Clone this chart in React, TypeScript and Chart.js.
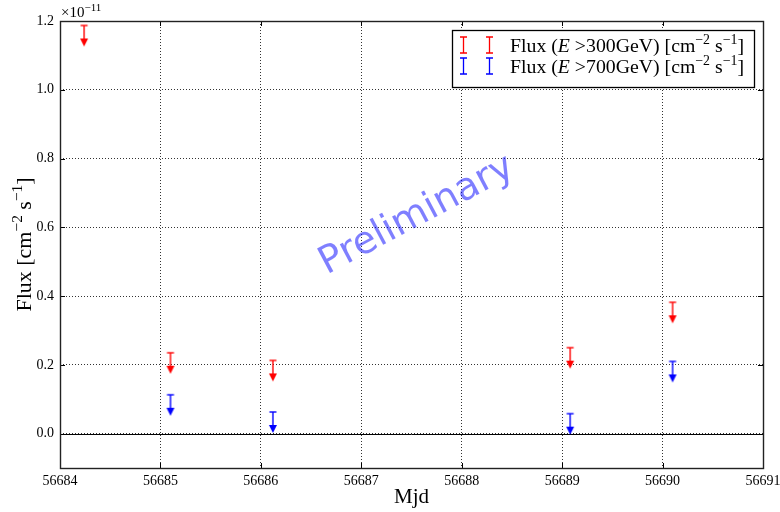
import React, { useEffect, useRef } from 'react';
import { Chart, registerables } from 'chart.js';

Chart.register(...registerables);

// ---- data (flux upper limits in units of 1e-11 cm^-2 s^-1) ----
const mjd300 = [56684.24, 56685.1, 56686.12, 56689.08, 56690.1];
const ul300 = [1.187, 0.235, 0.213, 0.25, 0.382];
const mjd700 = [56685.1, 56686.12, 56689.08, 56690.1];
const ul700 = [0.113, 0.063, 0.058, 0.21];

const xTicks = [56684, 56685, 56686, 56687, 56688, 56689, 56690, 56691];
const yTicks = [0, 0.2, 0.4, 0.6, 0.8, 1.0, 1.2];
const yTickLabels = ['0.0', '0.2', '0.4', '0.6', '0.8', '1.0', '1.2'];
const xMin = 56684;
const xMax = 56691;
const yMin = -0.1;
const yMax = 1.2;

const seriesEnergies = ['300GeV', '700GeV'];
const seriesColors = ['#ff0000', '#0000ff'];
const xTitle = 'Mjd';
const expBase = '×10';
const expPower = '−11';
const watermark = 'Preliminary';

type Seg = { t: string; it?: boolean; sup?: boolean };

const SERIF = '"Liberation Serif", "DejaVu Serif", serif';

function unitSegs(): Seg[] {
  return [
    { t: '[cm' },
    { t: '−2', sup: true },
    { t: ' s' },
    { t: '−1', sup: true },
    { t: ']' },
  ];
}

function legendSegs(energy: string): Seg[] {
  return [{ t: 'Flux (' }, { t: 'E', it: true }, { t: ' >' + energy + ') ' }, ...unitSegs()];
}

function yTitleSegs(): Seg[] {
  return [{ t: 'Flux ' }, ...unitSegs()];
}

function richWidth(ctx: CanvasRenderingContext2D, segs: Seg[], size: number) {
  let w = 0;
  for (const s of segs) {
    const fs = s.sup ? size * 0.7 : size;
    ctx.font = `${s.it ? 'italic ' : ''}${fs}px ${SERIF}`;
    w += ctx.measureText(s.t).width;
  }
  return w;
}

function drawRich(ctx: CanvasRenderingContext2D, segs: Seg[], x: number, y: number, size: number) {
  let cx = x;
  ctx.textAlign = 'left';
  ctx.textBaseline = 'alphabetic';
  for (const s of segs) {
    const fs = s.sup ? size * 0.7 : size;
    ctx.font = `${s.it ? 'italic ' : ''}${fs}px ${SERIF}`;
    ctx.fillText(s.t, cx, s.sup ? y - size * 0.4 : y);
    cx += ctx.measureText(s.t).width;
  }
  return cx - x;
}

function makeUpperLimit(color: string): HTMLCanvasElement {
  const c = document.createElement('canvas');
  c.width = 14;
  c.height = 46;
  const g = c.getContext('2d')!;
  g.strokeStyle = color;
  g.fillStyle = color;
  g.lineWidth = 1.4;
  // cap at the value (canvas center y = 23)
  g.beginPath();
  g.moveTo(3.5, 23);
  g.lineTo(10.5, 23);
  g.stroke();
  // stem
  g.beginPath();
  g.moveTo(7, 23);
  g.lineTo(7, 37);
  g.stroke();
  // arrow head
  g.beginPath();
  g.moveTo(3, 36);
  g.lineTo(11, 36);
  g.lineTo(7, 44);
  g.closePath();
  g.fill();
  return c;
}

function drawLegendSymbol(ctx: CanvasRenderingContext2D, x: number, yTop: number, yBot: number, color: string) {
  ctx.strokeStyle = color;
  ctx.lineWidth = 1.3;
  ctx.beginPath();
  ctx.moveTo(x, yTop);
  ctx.lineTo(x, yBot);
  ctx.moveTo(x - 3.5, yTop);
  ctx.lineTo(x + 3.5, yTop);
  ctx.moveTo(x - 3.5, yBot);
  ctx.lineTo(x + 3.5, yBot);
  ctx.stroke();
}

const decorPlugin = {
  id: 'decor',
  beforeDatasetsDraw(chart: any) {
    const { ctx, chartArea, scales } = chart;
    const y0 = scales.y.getPixelForValue(0);
    ctx.save();
    ctx.strokeStyle = '#000';
    ctx.lineWidth = 1;
    ctx.beginPath();
    ctx.moveTo(chartArea.left, Math.round(y0) + 0.5);
    ctx.lineTo(chartArea.right, Math.round(y0) + 0.5);
    ctx.stroke();

    // watermark
    const cx = (chartArea.left + chartArea.right) / 2 + 10;
    const cy = scales.y.getPixelForValue(0.62) + 4;
    ctx.translate(cx, cy);
    ctx.rotate((-28 * Math.PI) / 180);
    ctx.fillStyle = 'rgba(0, 0, 255, 0.5)';
    ctx.font = '38px "DejaVu Sans", sans-serif';
    ctx.textAlign = 'center';
    ctx.textBaseline = 'alphabetic';
    ctx.fillText(watermark, 0, 0);
    ctx.restore();
  },
  afterDraw(chart: any) {
    const { ctx, chartArea, scales } = chart;
    const { left, right, top, bottom } = chartArea;
    ctx.save();

    // inward tick marks on all four sides
    ctx.strokeStyle = '#000';
    ctx.lineWidth = 1;
    ctx.beginPath();
    for (const v of xTicks) {
      const px = Math.round(scales.x.getPixelForValue(v)) + 0.5;
      ctx.moveTo(px, bottom);
      ctx.lineTo(px, bottom - 5);
      ctx.moveTo(px, top);
      ctx.lineTo(px, top + 5);
    }
    for (const v of yTicks) {
      const py = Math.round(scales.y.getPixelForValue(v)) + 0.5;
      ctx.moveTo(left, py);
      ctx.lineTo(left + 5, py);
      ctx.moveTo(right, py);
      ctx.lineTo(right - 5, py);
    }
    ctx.stroke();

    // frame
    ctx.strokeStyle = '#222';
    ctx.lineWidth = 1.4;
    ctx.strokeRect(Math.round(left) + 0.5, Math.round(top) + 0.5, Math.round(right - left), Math.round(bottom - top));

    // exponent label
    ctx.fillStyle = '#000';
    ctx.font = `15px ${SERIF}`;
    ctx.textAlign = 'left';
    ctx.textBaseline = 'alphabetic';
    ctx.fillText(expBase, left + 1, top - 4);
    const bw = ctx.measureText(expBase).width;
    ctx.font = `11px ${SERIF}`;
    ctx.fillText(expPower, left + 1 + bw, top - 10);

    // x title
    ctx.font = `21px ${SERIF}`;
    ctx.textAlign = 'center';
    ctx.fillText(xTitle, (left + right) / 2, 503);

    // y title (rotated)
    const ysegs = yTitleSegs();
    const yw = richWidth(ctx, ysegs, 22);
    ctx.save();
    ctx.translate(31, (top + bottom) / 2);
    ctx.rotate(-Math.PI / 2);
    drawRich(ctx, ysegs, -yw / 2, 0, 22);
    ctx.restore();

    // legend
    const lx = 452.5;
    const ly = 30.5;
    const lw = 302;
    const lh = 57;
    ctx.fillStyle = '#fff';
    ctx.fillRect(lx, ly, lw, lh);
    ctx.strokeStyle = '#000';
    ctx.lineWidth = 1.3;
    ctx.strokeRect(lx, ly, lw, lh);
    seriesEnergies.forEach((e, i) => {
      const base = 52 + i * 21;
      drawLegendSymbol(ctx, 463.5, base - 15, base + 1, seriesColors[i]);
      drawLegendSymbol(ctx, 489.5, base - 15, base + 1, seriesColors[i]);
      ctx.fillStyle = '#000';
      drawRich(ctx, legendSegs(e), 510, base, 19.8);
    });

    ctx.restore();
  },
};

export default function App() {
  const ref = useRef<HTMLCanvasElement | null>(null);

  useEffect(() => {
    document.body.style.margin = '0';
    const canvas = ref.current!;
    const chart = new Chart(canvas, {
      type: 'scatter',
      data: {
        datasets: [
          {
            label: 'Flux (E >300GeV)',
            data: mjd300.map((x, i) => ({ x, y: ul300[i] })),
            pointStyle: makeUpperLimit(seriesColors[0]) as any,
            pointRadius: 6,
            borderColor: seriesColors[0],
            backgroundColor: seriesColors[0],
          },
          {
            label: 'Flux (E >700GeV)',
            data: mjd700.map((x, i) => ({ x, y: ul700[i] })),
            pointStyle: makeUpperLimit(seriesColors[1]) as any,
            pointRadius: 6,
            borderColor: seriesColors[1],
            backgroundColor: seriesColors[1],
          },
        ],
      },
      options: {
        animation: false,
        responsive: false,
        devicePixelRatio: 1,
        layout: { padding: { top: 21, right: 17, left: 0, bottom: 0 } },
        plugins: {
          legend: { display: false },
          tooltip: { enabled: false },
          title: { display: false },
        },
        scales: {
          x: {
            type: 'linear',
            min: xMin,
            max: xMax,
            afterBuildTicks: (s: any) => {
              s.ticks = xTicks.map((v) => ({ value: v }));
            },
            afterFit: (s: any) => {
              s.height = 44;
              s.paddingRight = 0;
              s.paddingLeft = 0;
            },
            ticks: {
              callback: (v: any) => String(v),
              color: '#000',
              padding: 5,
              maxRotation: 0,
              font: { family: SERIF, size: 14 },
            },
            grid: { color: '#333', lineWidth: 1, drawTicks: false },
            border: { display: false, dash: [1, 2] },
          },
          y: {
            type: 'linear',
            min: yMin,
            max: yMax,
            afterBuildTicks: (s: any) => {
              s.ticks = yTicks.map((v) => ({ value: v }));
            },
            afterFit: (s: any) => {
              s.width = 60;
              s.paddingTop = 0;
              s.paddingBottom = 0;
            },
            ticks: {
              callback: (v: any) => {
                const i = yTicks.findIndex((t) => Math.abs(t - v) < 1e-9);
                return i >= 0 ? yTickLabels[i] : '';
              },
              color: '#000',
              padding: 6,
              font: { family: SERIF, size: 14 },
            },
            grid: { color: '#333', lineWidth: 1, drawTicks: false },
            border: { display: false, dash: [1, 2] },
          },
        },
      },
      plugins: [decorPlugin],
    });
    return () => chart.destroy();
  }, []);

  return (
    <div style={{ position: 'absolute', left: 0, top: 0, width: 780, height: 512, background: '#fff' }}>
      <canvas ref={ref} width={780} height={512} />
    </div>
  );
}
